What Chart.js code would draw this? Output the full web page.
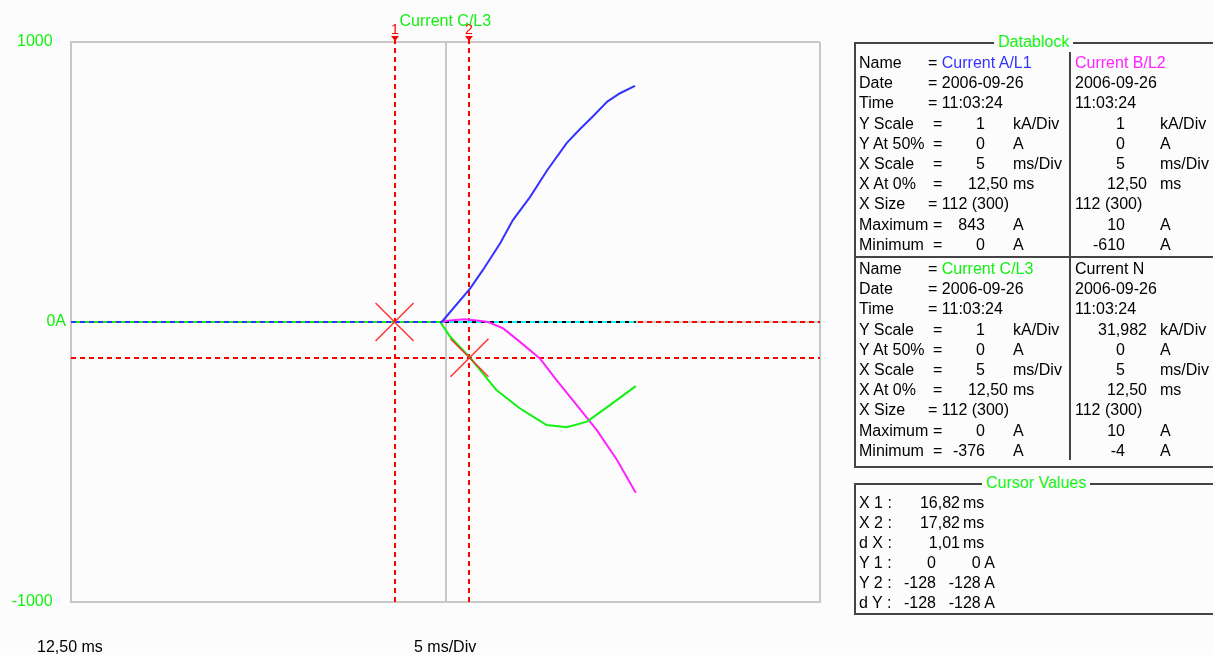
<!DOCTYPE html>
<html>
<head>
<meta charset="utf-8">
<script src="https://cdn.jsdelivr.net/npm/chart.js@4.4.1/dist/chart.umd.min.js"></script>
<style>
  html, body { margin: 0; padding: 0; background: #fcfcfc; }
  body { width: 1213px; height: 655px; position: relative; overflow: hidden;
         font-family: "Liberation Sans", Arial, sans-serif; font-size: 16px; color: #000; }
  #wrap { position: absolute; left: 0; top: 0; width: 845px; height: 655px; }
  #panel { position: absolute; left: 0; top: 0; width: 1213px; height: 655px; pointer-events: none; }
  .t { position: absolute; white-space: pre; line-height: 20px; height: 20px; }
  .box { position: absolute; border: 2px solid #444; box-sizing: border-box; }
  .title { position: absolute; background: #fcfcfc; padding: 0 4px; line-height: 20px; white-space: pre; }
  .ln { position: absolute; background: #444; }
</style>
</head>
<body>
<div id="wrap"><canvas id="scope" width="845" height="655"></canvas></div>
<div id="panel"></div>
<script>
// axis setup, read from the datablock
const xStart = 12.5;     // ms at 0%
const msPerDiv = 5;
const xDivs = 2;
const yMin = -1000, yMax = 1000;

// Current A/L1
const tA = [12.5, 17.45, 17.83, 18.0, 18.23, 18.4, 18.63, 18.86, 19.12, 19.3, 19.47, 19.66, 19.83, 20.03];
const iA = [0, 0, 120, 186, 281, 364, 447, 543, 640, 690, 735, 787, 817, 843];
// Current B/L2
const tB = [12.5, 17.43, 17.56, 17.75, 17.92, 18.07, 18.27, 18.49, 18.76, 18.98, 19.25, 19.52, 19.79, 20.04];
const iB = [0, 0, 5, 10, 5, 0, -23, -70, -130, -207, -296, -386, -493, -610];
// Current C/L3
const tC = [12.5, 17.43, 17.56, 17.83, 18.18, 18.49, 18.67, 18.85, 19.12, 19.39, 19.7, 20.04];
const iC = [0, 0, -52, -128, -243, -308, -338, -368, -376, -356, -296, -229];
// Current N
const tN = [12.5, 20.04];
const iN = [0, 0];

// cursors
const cursorX = [16.82, 17.82];
const cursorY = [0, -128];

const blue = '#3333ff', magenta = '#ff22ff', green = '#11f011', cyan = '#00ffff';
const red = '#ff0000', gridGray = '#c8c8c8';

const pts = (t, v) => t.map((x, i) => ({ x: x, y: v[i] }));

const cursorPlugin = {
  id: 'cursors',
  beforeDatasetsDraw(chart) {
    const { ctx, chartArea: a, scales: { x, y } } = chart;
    ctx.save();
    ctx.strokeStyle = red;
    ctx.lineWidth = 2;
    ctx.setLineDash([5, 4]);
    cursorY.forEach(v => {
      const py = Math.round(y.getPixelForValue(v));
      ctx.beginPath(); ctx.moveTo(a.left, py); ctx.lineTo(a.right, py); ctx.stroke();
    });
    cursorX.forEach(v => {
      const px = Math.round(x.getPixelForValue(v));
      ctx.beginPath(); ctx.moveTo(px, a.top - 3); ctx.lineTo(px, a.bottom); ctx.stroke();
    });
    ctx.restore();
  },
  afterDatasetsDraw(chart) {
    const { ctx, chartArea: a, scales: { x, y } } = chart;
    ctx.save();
    // crosses where cursors meet
    ctx.strokeStyle = 'rgba(255,30,30,0.9)';
    ctx.lineWidth = 1.5;
    cursorX.forEach((v, i) => {
      const px = x.getPixelForValue(v), py = y.getPixelForValue(cursorY[i]);
      ctx.beginPath();
      ctx.moveTo(px - 19, py - 19); ctx.lineTo(px + 19, py + 19);
      ctx.moveTo(px + 19, py - 19); ctx.lineTo(px - 19, py + 19);
      ctx.stroke();
    });
    // cursor numbers and arrows
    ctx.fillStyle = red;
    ctx.font = '14px "Liberation Sans"';
    ctx.textAlign = 'center';
    ctx.textBaseline = 'middle';
    cursorX.forEach((v, i) => {
      const px = Math.round(x.getPixelForValue(v));
      ctx.fillText(String(i + 1), px, a.top - 12);
      ctx.beginPath();
      ctx.moveTo(px - 4, a.top - 6); ctx.lineTo(px + 4, a.top - 6); ctx.lineTo(px, a.top - 1);
      ctx.closePath(); ctx.fill();
    });
    // active channel name
    ctx.fillStyle = green;
    ctx.font = '16px "Liberation Sans"';
    ctx.textAlign = 'left';
    ctx.fillText('Current C/L3', x.getPixelForValue(cursorX[0]) + 5, a.top - 20);
    ctx.restore();
  }
};

const zeroDash = c => (c.p0.parsed.y === 0 && c.p1.parsed.y === 0) ? [5, 4] : undefined;

new Chart(document.getElementById('scope'), {
  type: 'line',
  data: {
    datasets: [
      { label: 'Current A/L1', data: pts(tA, iA), borderColor: blue, order: 0,
        segment: { borderDash: zeroDash } },
      { label: 'Current C/L3', data: pts(tC, iC), borderColor: green, order: 1 },
      { label: 'Current B/L2', data: pts(tB, iB), borderColor: magenta, order: 2 },
      { label: 'Current N', data: pts(tN, iN), borderColor: cyan, borderDash: [5, 4], order: 3 },
      { label: 'Current N base', data: pts(tN, iN), borderColor: '#000000', order: 4 }
    ]
  },
  options: {
    responsive: false,
    animation: false,
    layout: { padding: { top: 42, right: 25, bottom: 53, left: 0 } },
    elements: { point: { radius: 0 }, line: { borderWidth: 2, tension: 0 } },
    plugins: { legend: { display: false }, tooltip: { enabled: false } },
    scales: {
      x: {
        type: 'linear',
        min: xStart,
        max: xStart + msPerDiv * xDivs,
        afterBuildTicks: s => {
          s.ticks = [];
          for (let i = 0; i <= xDivs; i++) s.ticks.push({ value: xStart + i * msPerDiv });
        },
        afterFit: s => { s.height = 0; },
        ticks: { display: false },
        grid: { color: gridGray, lineWidth: 2, drawTicks: false },
        border: { color: gridGray, width: 2 }
      },
      y: {
        min: yMin,
        max: yMax,
        afterFit: s => { s.width = 71; },
        ticks: {
          stepSize: 1000,
          padding: 5,
          color: green,
          font: { family: 'Liberation Sans', size: 16 },
          callback: v => v === 0 ? '0A' : v + '   '
        },
        grid: { color: gridGray, lineWidth: 2, drawTicks: false },
        border: { color: gridGray, width: 2 }
      }
    }
  },
  plugins: [cursorPlugin]
});

// ---- side panel text ----
const panel = document.getElementById('panel');

function put(html, x, yc, align, color) {
  const s = document.createElement('span');
  s.className = 't';
  s.innerHTML = html;
  s.style.top = (yc - 10) + 'px';
  if (align === 'right') s.style.right = (1213 - x) + 'px';
  else s.style.left = x + 'px';
  if (color) s.style.color = color;
  panel.appendChild(s);
}
function el(cls, l, t, w, h) {
  const d = document.createElement('div');
  d.className = cls;
  d.style.left = l + 'px'; d.style.top = t + 'px';
  if (w != null) d.style.width = w + 'px';
  if (h != null) d.style.height = h + 'px';
  panel.appendChild(d);
  return d;
}
function title(text, l, yc) {
  const d = el('title', l, yc - 10);
  d.style.color = green;
  d.textContent = text;
}

const rowLabels = ['Name', 'Date', 'Time', 'Y Scale', 'Y At 50%', 'X Scale', 'X At 0%', 'X Size', 'Maximum', 'Minimum'];

const chanA = { name: 'Current A/L1', color: blue, date: '2006-09-26', time: '11:03:24', yScale: '1', y50: '0',
  xScale: '5', x0: '12,50', size: '112 (300)', max: '843', min: '0' };
const chanB = { name: 'Current B/L2', color: magenta, date: '2006-09-26', time: '11:03:24', yScale: '1', y50: '0',
  xScale: '5', x0: '12,50', size: '112 (300)', max: '10', min: '-610' };
const chanC = { name: 'Current C/L3', color: green, date: '2006-09-26', time: '11:03:24', yScale: '1', y50: '0',
  xScale: '5', x0: '12,50', size: '112 (300)', max: '0', min: '-376' };
const chanN = { name: 'Current N', color: '#000', date: '2006-09-26', time: '11:03:24', yScale: '31,982', y50: '0',
  xScale: '5', x0: '12,50', size: '112 (300)', max: '10', min: '-4' };

function section(y0, chans) {
  const ry = i => y0 + i * 20.2;
  rowLabels.forEach((l, i) => put(l, 859, ry(i)));
  [3, 4, 5, 6, 8, 9].forEach(i => put('=', 933, ry(i)));
  chans.forEach((c, k) => {
    const tx = k ? 1075 : 928, pre = k ? '' : '= ';
    put(pre + '<span style="color:' + c.color + '">' + c.name + '</span>', tx, ry(0));
    put(pre + c.date, tx, ry(1));
    put(pre + c.time, tx, ry(2));
    put(pre + c.size, tx, ry(7));
    const nums = [[3, c.yScale, 'kA/Div'], [4, c.y50, 'A'], [5, c.xScale, 'ms/Div'],
                  [6, c.x0, 'ms'], [8, c.max, 'A'], [9, c.min, 'A']];
    nums.forEach(([i, v, u]) => {
      const dec = v.indexOf(',') >= 0;
      const right = k ? (dec ? 1147 : 1125) : (dec ? 1008 : 985);
      put(v, right, ry(i), 'right');
      put(u, k ? 1160 : 1013, ry(i));
    });
  });
}

// Datablock frame
el('box', 854, 42, 380, 426);
el('ln', 1069, 52, 2, 408);
el('ln', 854, 256, 370, 2);
title('Datablock', 994, 42);
section(63, [chanA, chanB]);
section(269, [chanC, chanN]);

// Cursor Values frame
const cursorLabels = ['X 1 :', 'X 2 :', 'd X :', 'Y 1 :', 'Y 2 :', 'd Y :'];
const cursorTimes = ['16,82', '17,82', '1,01'];
const cursorAmps = [['0', '0 A'], ['-128', '-128 A'], ['-128', '-128 A']];
el('box', 854, 483, 380, 132);
title('Cursor Values', 982, 483);
cursorLabels.forEach((l, i) => put(l, 859, 503 + i * 20));
cursorTimes.forEach((v, i) => { put(v, 960, 503 + i * 20, 'right'); put('ms', 963, 503 + i * 20); });
cursorAmps.forEach((p, i) => { put(p[0], 936, 563 + i * 20, 'right'); put(p[1], 995, 563 + i * 20, 'right'); });

// bottom captions
put('12,50 ms', 37, 647);
put('5 ms/Div', 414, 647);
</script>
</body>
</html>
